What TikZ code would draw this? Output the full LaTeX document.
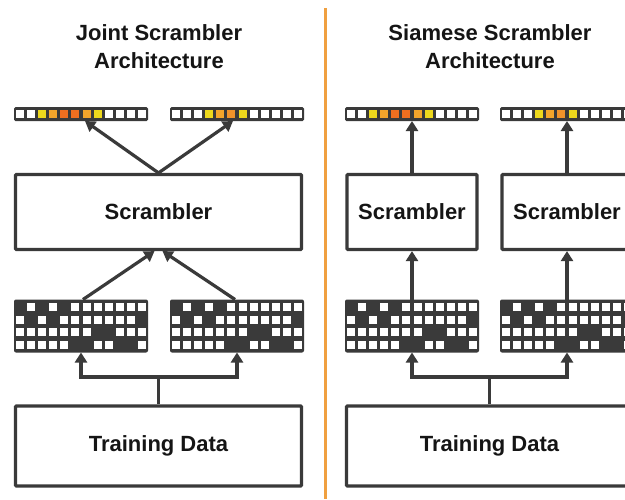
\documentclass[tikz,border=0pt]{standalone}
\usepackage{fontspec}
\setmainfont{Liberation Sans}
\usetikzlibrary{arrows.meta,calc}
\definecolor{dk}{HTML}{3A3A3A}
\definecolor{txt}{HTML}{151515}
\definecolor{W}{HTML}{FFFFFF}
\definecolor{Y}{HTML}{EDD81C}
\definecolor{A}{HTML}{F3A52B}
\definecolor{O}{HTML}{F0932A}
\definecolor{R}{HTML}{EE6E20}
\definecolor{divider}{HTML}{F0A040}
\newcommand\mkbar[4]{%
  \node[barbox, anchor=west] (#1) at (#2,#3) {};
  \foreach \c [count=\k from 0] in {#4} {
    \fill[\c] (#2+6+11.09*\k-4, #3-4) rectangle ++(8,8);
  }
}
\newcommand\mkrow[3]{% left x, centre y, bits
  \foreach \b [count=\k from 0] in {#3} {
    \ifnum\b=1 \fill[white] (#1+6+11.09*\k-4, #2-4) rectangle ++(8,8);\fi
  }
}
\newcommand\mkgrid[3]{% name, left x, top y
  \node[gridbox, anchor=north west] (#1) at (#2,#3) {};
  \mkrow{#2}{#3+7.5}{0,1,0,1,0,1,1,1,1,1,1,1}
  \mkrow{#2}{#3+7.5+12.67}{1,0,1,0,1,1,1,1,1,1,1,0}
  \mkrow{#2}{#3+7.5+25.33}{1,1,1,1,1,1,1,0,0,1,1,1}
  \mkrow{#2}{#3+7.5+38}{1,1,1,1,1,0,0,1,1,0,0,1}
}
\begin{document}
\begin{tikzpicture}[x=1pt,y=-1pt,
  lbl/.style={font=\bfseries\fontsize{22}{28}\selectfont, text=txt},
  box/.style={lbl, draw=dk, line width=3.2pt, fill=white, rounded corners=1pt, inner sep=0pt},
  barbox/.style={fill=dk, draw=none, rounded corners=1.5pt, minimum width=134pt, minimum height=14pt, inner sep=0pt, outer sep=0pt},
  gridbox/.style={fill=dk, draw=none, rounded corners=2pt, minimum width=134pt, minimum height=53pt, inner sep=0pt, outer sep=0pt},
  ln/.style={draw=dk, line width=3.2pt},
  arr/.style={ln, -{Triangle[length=10pt,width=12pt]}},
  titlebox/.style={lbl, align=center, inner sep=0pt}
]
\clip (0,0) rectangle (625,499);
\fill[white] (0,0) rectangle (625,499);

% divider
\draw[divider, line width=3pt] (325,8) -- (325,499);

% titles
\node[titlebox] (tj) at (159,47) {Joint Scrambler\\Architecture};
\node[titlebox] (ts) at (490,47) {Siamese Scrambler\\Architecture};

% ---------- left panel ----------
\mkbar{barA}{14}{114}{W,W,Y,A,R,R,A,Y,W,W,W,W}
\mkbar{barB}{170}{114}{W,W,W,Y,A,O,Y,W,W,W,W,W}
\node[box, minimum width=286pt, minimum height=75pt] (scr) at (158.5,212) {Scrambler};
\mkgrid{gA}{14}{299.5}
\mkgrid{gB}{170}{299.5}
\node[box, minimum width=286pt, minimum height=80pt] (td) at (158.5,446) {Training Data};

\draw[arr] (scr.north) -- ([xshift=4pt]barA.south);
\draw[arr] (scr.north) -- ([xshift=-4pt]barB.south);
\draw[arr] ([xshift=2pt]gA.north) -- ([xshift=-4pt]scr.south);
\draw[arr] ([xshift=-2pt]gB.north) -- ([xshift=4pt]scr.south);
\coordinate (bjL) at (158.5,377);
\draw[ln] (td.north) -- (bjL);
\draw[arr] (bjL) -| (gA.south);
\draw[arr] (bjL) -| (gB.south);

% ---------- right panel ----------
\mkbar{barC}{345}{114}{W,W,Y,A,R,R,A,Y,W,W,W,W}
\mkbar{barD}{500}{114}{W,W,W,Y,A,O,Y,W,W,W,W,W}
\node[box, minimum width=130pt, minimum height=75pt] (scrC) at (412,212) {Scrambler};
\node[box, minimum width=130pt, minimum height=75pt] (scrD) at (567,212) {Scrambler};
\mkgrid{gC}{345}{299.5}
\mkgrid{gD}{500}{299.5}
\node[box, minimum width=286pt, minimum height=80pt] (tdR) at (489.5,446) {Training Data};

\draw[arr] (scrC.north) -- (barC.south);
\draw[arr] (scrD.north) -- (barD.south);
\draw[arr] (gC.north) -- (scrC.south);
\draw[arr] (gD.north) -- (scrD.south);
\coordinate (bjR) at (489.5,377);
\draw[ln] (tdR.north) -- (bjR);
\draw[arr] (bjR) -| (gC.south);
\draw[arr] (bjR) -| (gD.south);
\end{tikzpicture}
\end{document}
